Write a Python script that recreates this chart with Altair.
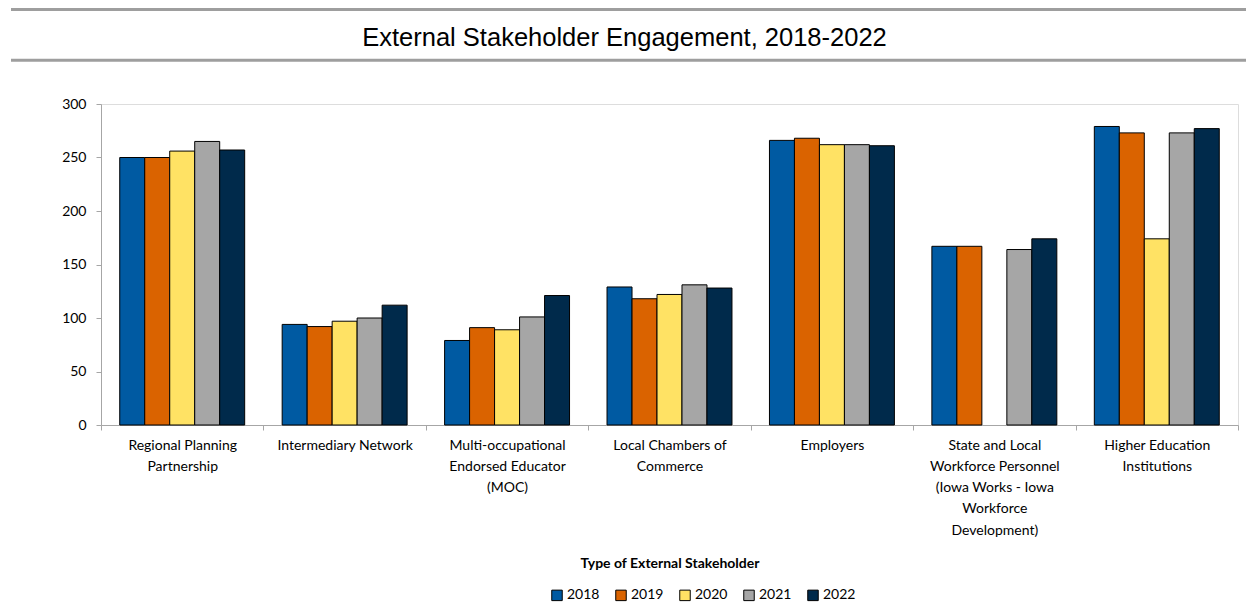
import altair as alt
import pandas as pd

categories = [
    "Regional Planning\nPartnership",
    "Intermediary Network",
    "Multi-occupational\nEndorsed Educator\n(MOC)",
    "Local Chambers of\nCommerce",
    "Employers",
    "State and Local\nWorkforce Personnel\n(Iowa Works - Iowa\nWorkforce\nDevelopment)",
    "Higher Education\nInstitutions",
]
years = ["2018", "2019", "2020", "2021", "2022"]
v2018 = [250, 94, 79, 129, 266, 167, 279]
v2019 = [250, 92, 91, 118, 268, 167, 273]
v2020 = [256, 97, 89, 122, 262, None, 174]
v2021 = [265, 100, 101, 131, 262, 164, 273]
v2022 = [257, 112, 121, 128, 261, 174, 277]
colors = ["#005AA2", "#DA6300", "#FFE264", "#A6A6A6", "#002A4B"]
title_text = "External Stakeholder Engagement, 2018-2022"
x_title = "Type of External Stakeholder"

rows = []
for y, vals in zip(years, [v2018, v2019, v2020, v2021, v2022]):
    for c, v in zip(categories, vals):
        if v is not None:
            rows.append({"cat": c, "year": y, "value": v})
df = pd.DataFrame(rows)

W, H = 1137, 321
FONT = "Lato"
FS = 14

bars = alt.Chart(df).mark_bar(stroke="black", strokeWidth=1).encode(
    x=alt.X("cat:N", sort=categories,
            scale=alt.Scale(paddingInner=0, paddingOuter=0),
            axis=alt.Axis(title=x_title, labelAngle=0, tickBand="extent",
                          labelExpr='split(datum.label, "\\n")',
                          labelFont=FONT, labelFontSize=FS, labelColor="black",
                          labelLineHeight=21.3, labelPadding=8,
                          labelBaseline="top",
                          domainColor="#A6A6A6", tickColor="#A6A6A6", tickSize=5,
                          titleFont=FONT, titleFontSize=FS, titleFontWeight="bold",
                          titleColor="black", titleY=142, titleBaseline="alphabetic")),
    xOffset=alt.XOffset("year:N", sort=years,
                        scale=alt.Scale(paddingOuter=0.75, paddingInner=0)),
    y=alt.Y("value:Q", scale=alt.Scale(domain=[0, 300], nice=False),
            axis=alt.Axis(title=None, values=[0, 50, 100, 150, 200, 250, 300],
                          grid=False, labelFont=FONT, labelFontSize=FS,
                          labelColor="black", labelPadding=10,
                          domainColor="#A6A6A6", tickColor="#A6A6A6", tickSize=5)),
    color=alt.Color("year:N", sort=years,
                    scale=alt.Scale(domain=years, range=colors),
                    legend=alt.Legend(title=None, orient="none", direction="horizontal",
                                      legendX=449, legendY=484, symbolType="square",
                                      symbolSize=110, symbolStrokeColor="black",
                                      symbolStrokeWidth=1, labelFont=FONT,
                                      labelFontSize=FS, labelColor="black",
                                      labelOffset=3, columnPadding=13, padding=0)),
)

title = alt.Chart(alt.Data(values=[{"t": title_text}])).mark_text(
    font="Liberation Sans", fontSize=25.5, color="black", baseline="alphabetic", align="center"
).encode(text="t:N", x=alt.value(W / 2 - 45), y=alt.value(-58))

line1 = alt.Chart(alt.Data(values=[{"a": 1}])).mark_rule(
    color="#9E9E9E", strokeWidth=3
).encode(x=alt.value(-90), x2=alt.value(W + 8), y=alt.value(-94.5))

line2 = alt.Chart(alt.Data(values=[{"a": 1}])).mark_rule(
    color="#9E9E9E", strokeWidth=3
).encode(x=alt.value(-90), x2=alt.value(W + 8), y=alt.value(-43.7))

chart = alt.layer(bars, title, line1, line2).properties(
    width=W, height=H,
    autosize=alt.AutoSizeParams(type="none"),
    padding={"left": 93, "top": 96, "right": 8, "bottom": 184},
).configure_view(stroke=None).configure(background="white")

chart.save("out.html", embed_options={"renderer": "svg", "actions": False})
